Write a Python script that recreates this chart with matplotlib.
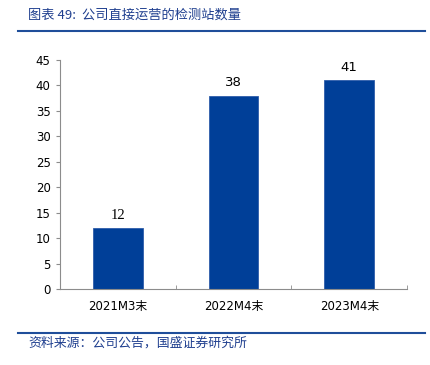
import matplotlib.pyplot as plt
from matplotlib.lines import Line2D

categories = ['2021M3末', '2022M4末', '2023M4末']
stations = [12, 38, 41]

title_text = '图表 49:  公司直接运营的检测站数量'
source_text = '资料来源：公司公告，国盛证券研究所'

fonts = ['DejaVu Sans', 'Noto Sans CJK SC']
cjk = ['Noto Sans CJK SC', 'DejaVu Sans']
bar_color = '#003F98'
line_color = '#1F4E9A'
axis_grey = '#8C8C8C'

fig = plt.figure(figsize=(4.3, 3.65), dpi=100)
ax = fig.add_axes([0.139, 0.208, 0.808, 0.628])

x = range(len(categories))
bars = ax.bar(x, stations, width=0.43, color=bar_color,
              edgecolor='#2E5DAA', linewidth=0.6)
for i, (b, v) in enumerate(zip(bars, stations)):
    # the first label is set in a serif face in the original
    if i == 0:
        fam, fs = ['Liberation Serif'], 10.5
    else:
        fam, fs = fonts, 9.5
    ax.text(b.get_x() + b.get_width() / 2, v + 1.2, str(v),
            ha='center', va='bottom', fontsize=fs, family=fam)

ax.set_xlim(-0.5, 2.5)
ax.set_ylim(0, 45)
ax.set_yticks(range(0, 46, 5))
ax.set_xticks(list(x))
ax.set_xticklabels(categories, family=fonts, fontsize=8.5)
ax.set_xticks([0.5, 1.5, 2.5], minor=True)
ax.tick_params(axis='x', which='major', length=0, pad=8)
ax.tick_params(axis='x', which='minor', direction='in', length=3, color=axis_grey)
ax.tick_params(axis='y', direction='out', length=3, color=axis_grey, labelsize=8.5)
for lab in ax.get_yticklabels():
    lab.set_family(fonts)

for s in ['top', 'right']:
    ax.spines[s].set_visible(False)
for s in ['left', 'bottom']:
    ax.spines[s].set_color(axis_grey)
    ax.spines[s].set_linewidth(0.8)

# header and footer
fig.text(28 / 430, 1 - 15 / 365, title_text, fontsize=9.5, color='#1F3F8F',
         family=cjk, style='italic', va='center')
fig.add_artist(Line2D([18 / 430, 425 / 430], [1 - 31 / 365] * 2,
                      color=line_color, linewidth=1.5))
fig.add_artist(Line2D([18 / 430, 425 / 430], [1 - 333 / 365] * 2,
                      color=line_color, linewidth=1.5))
fig.text(28 / 430, 1 - 343 / 365, source_text, fontsize=9.3, color='#1F3F8F',
         family=cjk, style='italic', va='center')

fig.savefig('out.png', dpi=100)
